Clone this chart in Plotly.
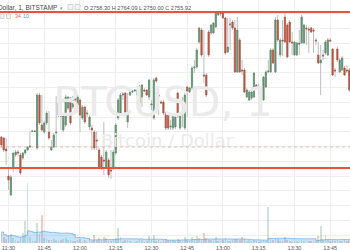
import numpy as np
import pandas as pd
import plotly.graph_objects as go

times = pd.date_range("2017-07-06 11:27", periods=147, freq="1min")

open_ = [2731.5, 2731, 2725.5, 2712, 2702.5, 2716.5, 2722.5, 2724, 2722.5, 2721,
         2723.5, 2725, 2726.5, 2734.25, 2734.5, 2726, 2752.5, 2737.5, 2734, 2738.5,
         2734, 2725, 2726.5, 2733.5, 2748.5, 2742.5, 2735, 2737.5, 2746, 2751,
         2746.5, 2751.5, 2747.5, 2750, 2741, 2746.5, 2743, 2736.5, 2736, 2734,
         2730, 2725, 2721.5, 2720, 2716.5, 2720, 2715, 2716, 2723.5, 2741,
         2743.5, 2752.5, 2753.5, 2739, 2752.5, 2754, 2754.5, 2752.5, 2748.5, 2751.5,
         2755, 2755, 2751.5, 2747.5, 2741, 2761, 2752.5, 2749, 2749, 2743.5,
         2742.5, 2736.5, 2736, 2736.5, 2753.5, 2736, 2744, 2736, 2756.5, 2754,
         2756, 2766, 2766.5, 2779, 2785, 2762.5, 2762.5, 2784, 2783.5, 2783.5,
         2786.5, 2792.5, 2793, 2793.5, 2791, 2774, 2787.5, 2789, 2786, 2764,
         2780, 2765, 2765, 2751.5, 2750, 2751, 2751.5, 2757.5, 2756, 2756,
         2750, 2756.5, 2764, 2764, 2775, 2764, 2790, 2772.5, 2780, 2791.5,
         2787.5, 2789, 2779, 2772.5, 2772.5, 2778.5, 2778.5, 2778.5, 2786, 2785.5,
         2786, 2785, 2780, 2772.5, 2768.5, 2772.5, 2773.5, 2772.5, 2780, 2775.5,
         2765, 2775.5, 2764, 2765, 2766, 2765, 2765]
high = [2732, 2731.5, 2731, 2716.5, 2712.5, 2723.5, 2725, 2725, 2723.5, 2724,
        2725.5, 2727, 2734.5, 2735, 2735, 2753.5, 2753.5, 2752.5, 2739.5, 2744.5,
        2744.5, 2730, 2733.5, 2752, 2752.5, 2750, 2743.5, 2752.5, 2752, 2751.5,
        2752, 2752, 2752.5, 2751, 2747.5, 2747, 2745, 2742.5, 2737.5, 2735,
        2734.5, 2726, 2722.5, 2739, 2725, 2721, 2725, 2725, 2738.5, 2751,
        2753.5, 2754, 2754, 2753.5, 2754.5, 2754.5, 2755, 2755.5, 2757.5, 2758,
        2756, 2755.5, 2760.5, 2750, 2761, 2761.5, 2753.5, 2750, 2750, 2744,
        2743.5, 2740, 2743.5, 2742.5, 2754, 2743.5, 2751.5, 2753.5, 2757, 2756.5,
        2767, 2770, 2776, 2786.5, 2786, 2785, 2763.5, 2785, 2788, 2789,
        2794, 2794, 2794, 2794, 2791.5, 2791, 2791, 2790, 2790, 2791.5,
        2781, 2770, 2766, 2756, 2755, 2754.5, 2764, 2758, 2758, 2757,
        2762, 2765, 2770, 2776, 2776, 2791.5, 2792.5, 2781, 2790, 2793.5,
        2788.5, 2790, 2784, 2779.5, 2779, 2785, 2792.5, 2788, 2787.5, 2786.5,
        2786.5, 2786, 2781, 2779, 2777.5, 2775, 2780, 2781, 2781, 2776,
        2766, 2776.5, 2771, 2772, 2767, 2767.5, 2766]
low = [2726.5, 2724, 2717.5, 2705, 2702, 2714, 2721.5, 2722, 2712.5, 2720,
       2722.5, 2724.5, 2726, 2734, 2734, 2725, 2737.5, 2734, 2733, 2737.5,
       2730, 2724.5, 2726, 2726.5, 2741.5, 2735, 2734, 2736.5, 2745, 2737.5,
       2745.5, 2749, 2747, 2734, 2740, 2738, 2741.5, 2735, 2725, 2725,
       2725, 2716, 2715, 2712.5, 2715.5, 2711, 2710.5, 2715, 2722.5, 2740,
       2742.5, 2750, 2743, 2736, 2752, 2753.5, 2754, 2752, 2747.5, 2746.5,
       2754, 2752, 2750, 2745, 2740, 2758.5, 2742.5, 2748, 2742.5, 2735,
       2735, 2735, 2735, 2735.5, 2741, 2735, 2736.5, 2735, 2741.5, 2753.5,
       2755, 2763.5, 2765.5, 2778, 2771.5, 2758.5, 2751.5, 2771.5, 2782.5, 2783,
       2786, 2792, 2792, 2790.5, 2772.5, 2773.5, 2775, 2785, 2763.5, 2763.5,
       2763.5, 2762.5, 2753.5, 2751, 2749.5, 2750, 2751, 2755.5, 2752.5, 2755.5,
       2749.5, 2756, 2763.5, 2763.5, 2768, 2763.5, 2779, 2771.5, 2772, 2778.5,
       2771, 2778.5, 2772.5, 2772, 2772, 2772.5, 2778, 2778, 2777.5, 2773.5,
       2783.5, 2773.5, 2777.5, 2768, 2752.5, 2770, 2772.5, 2772, 2779, 2762,
       2761.5, 2769, 2763.5, 2764.5, 2762, 2763.5, 2754]
close = [2727.5, 2725, 2724.5, 2710, 2711.5, 2723.5, 2724, 2723.5, 2713.5, 2723.5,
         2725, 2726.5, 2727, 2734.5, 2734.25, 2752.5, 2738.5, 2735, 2738.5, 2743.5,
         2731, 2726.5, 2732.5, 2734, 2742.5, 2742, 2742.5, 2751.5, 2751.5, 2738.5,
         2751.5, 2750, 2751.5, 2742.5, 2746.5, 2739, 2743.5, 2741.5, 2735, 2726,
         2729.5, 2716.5, 2716.5, 2719.5, 2724, 2712.5, 2714.5, 2724, 2737.5, 2750,
         2752.5, 2753, 2744, 2743.5, 2754, 2754.5, 2755, 2755, 2757, 2757.5,
         2754.5, 2752.5, 2760, 2748, 2760, 2759.5, 2752, 2748.5, 2743.5, 2736,
         2736, 2737, 2742.5, 2741.5, 2742, 2742.5, 2743.5, 2752.5, 2754.5, 2756,
         2766, 2766.5, 2775, 2786, 2772.5, 2762, 2752.5, 2772.5, 2787.5, 2788.5,
         2793.5, 2793.5, 2793.5, 2791, 2773.5, 2776.5, 2788, 2786, 2764, 2785,
         2764, 2764.5, 2754, 2755, 2754, 2754, 2763.5, 2756, 2755.5, 2756.5,
         2761.5, 2764, 2764.5, 2775, 2768.5, 2790, 2780, 2780, 2779.5, 2779,
         2771.5, 2779, 2778.5, 2779, 2778.5, 2778, 2791.5, 2787.5, 2785.5, 2785,
         2784, 2784.5, 2779.5, 2768.5, 2770, 2772, 2779, 2780, 2779.5, 2762.5,
         2764.5, 2770, 2770, 2771, 2762.5, 2764.5, 2755]
volume = [5.5, 3, 2, 4, 4.5, 2.5, 1.5, 1, 3, 5,
          11, 30, 3, 1, 1, 10, 4.5, 14, 2.5, 2,
          1.5, 1.5, 2, 1.5, 1, 1.5, 2, 2.5, 1.5, 1.5,
          1, 1, 1.5, 2, 1, 1.5, 0.5, 2, 1, 4,
          1.5, 2.5, 1.5, 3, 2.5, 1.5, 1, 2, 2.5, 7.5,
          3, 1, 1.5, 1.5, 1, 0.5, 0.5, 1, 2, 1.5,
          0.5, 1, 3.5, 1.5, 4, 1, 1.5, 0.5, 1.5, 2,
          1.5, 1, 1.5, 1, 2, 1.5, 1, 3, 1.5, 1,
          3, 1.5, 3.5, 2.5, 2, 5, 2.5, 1.5, 1.5, 1,
          3, 1, 1, 1.5, 2.5, 1, 1, 1.5, 2, 2,
          1.5, 3, 2, 1, 1.5, 1, 1.5, 1, 0.5, 1,
          1.5, 1, 18, 2, 1.5, 2.5, 2, 1, 1, 3,
          1.5, 1, 0.5, 1, 1, 0.5, 1.5, 1, 0.5, 1,
          1, 0.5, 1, 3.5, 8.5, 1.5, 4, 2, 1, 1.5,
          1, 1.5, 1, 1, 1.5, 1, 2]

resistance_level = 2794.0
support_level = 2716.0
marker_level = 2726.5

header_symbol = "Bitcoin / Dollar, 1, BITSTAMP"
header_ohlc = "O 2758.30 H 2764.09 L 2750.00 C 2755.92"
vol_value = "34"
vol_ma_value = "10"
watermark_main = "BTCUSD, 1"
watermark_sub = "Bitcoin / Dollar"

# ---- styling ----
W, H = 350, 250
MB = 7
PH = H - MB
UP = "#5f9270"
DOWN = "#b9533e"
WICK = "#bdbdbd"
GRID = "#efefef"

o = np.array(open_)
c = np.array(close)
up = c > o
vol_ma = pd.Series(volume).rolling(20, min_periods=1).mean()
vol_colors = np.where(up, "rgba(107,165,131,0.32)", "rgba(215,84,66,0.30)")

fig = go.Figure()

# watermark (beneath everything)
fig.add_trace(go.Scatter(x=[pd.Timestamp("2017-07-06 12:34:50")], y=[2747],
                         mode="text", text=[watermark_main], textposition="middle center",
                         textfont=dict(family="DejaVu Sans", size=41, color="#eaeaea"),
                         hoverinfo="skip"))
fig.add_trace(go.Scatter(x=[pd.Timestamp("2017-07-06 12:36:30")], y=[2729],
                         mode="text", text=[watermark_sub], textposition="middle center",
                         textfont=dict(family="DejaVu Sans", size=18, color="#eaeaea"),
                         hoverinfo="skip"))

# wicks
fig.add_trace(go.Candlestick(x=times, open=open_, high=high, low=low, close=close,
                             increasing=dict(line=dict(color=WICK, width=1), fillcolor=WICK),
                             decreasing=dict(line=dict(color=WICK, width=1), fillcolor=WICK),
                             whiskerwidth=0, hoverinfo="skip"))
# bodies
fig.add_trace(go.Candlestick(x=times, open=open_, close=close,
                             high=np.maximum(o, c), low=np.minimum(o, c),
                             increasing=dict(line=dict(color=UP, width=0.6), fillcolor=UP),
                             decreasing=dict(line=dict(color=DOWN, width=0.6), fillcolor=DOWN),
                             whiskerwidth=0))

# volume + MA
fig.add_trace(go.Scatter(x=times, y=vol_ma, yaxis="y2", mode="lines", fill="tozeroy",
                         line=dict(color="rgba(80,160,225,0.55)", width=1, shape="hv"),
                         fillcolor="rgba(120,185,235,0.40)", hoverinfo="skip"))
fig.add_trace(go.Bar(x=times, y=volume, yaxis="y2", marker=dict(color=list(vol_colors), line=dict(width=0)),
                     width=42000))

def P(xp, yp):
    return xp / W, 1 - yp / PH

shapes = []
for lvl, col, wd, dash in [(resistance_level, "#e8533f", 2, "solid"),
                           (support_level, "#e8533f", 2, "solid"),
                           (marker_level, "rgba(226,110,95,0.45)", 1, "dot")]:
    shapes.append(dict(type="line", xref="paper", x0=0, x1=1, yref="y", y0=lvl, y1=lvl,
                       line=dict(color=col, width=wd, dash=dash)))
# small header icons
for (x0, y0, x1, y1) in [(68, 4.5, 73, 9.5), (75, 4.5, 80, 9.5), (0, 14, 4, 18.5), (6.5, 14, 10.5, 18.5)]:
    a0, b0 = P(x0, y0)
    a1, b1 = P(x1, y1)
    shapes.append(dict(type="rect", xref="paper", yref="paper", x0=a0, x1=a1, y0=b0, y1=b1,
                       line=dict(color="#cccccc", width=0.8), fillcolor="#f4f4f4"))

anns = []
def ann(xp, yp, text, size, color, xanchor="left"):
    ax, ay = P(xp, yp)
    anns.append(dict(xref="paper", yref="paper", x=ax, y=ay, text=text, showarrow=False,
                     xanchor=xanchor, yanchor="middle", borderpad=0,
                     font=dict(family="Liberation Sans", size=size, color=color)))

ann(58, 7.5, header_symbol, 6.5, "#4a4a4a", "right")
ann(58.5, 7.5, "▾", 5, "#999999")
ann(82.5, 7.5, header_ohlc, 5.6, "#555555")
ann(14, 16.5, vol_value, 5.2, "#d9634f")
ann(22.5, 16.5, vol_ma_value, 5.2, "#4a9fe0")

fig.update_layout(
    width=W, height=H,
    margin=dict(l=0, r=0, t=0, b=MB),
    paper_bgcolor="white", plot_bgcolor="white",
    showlegend=False, bargap=0,
    boxgap=0.3,
    shapes=shapes, annotations=anns,
    xaxis=dict(type="date", range=["2017-07-06 11:26:26", "2017-07-06 13:53:18"],
               rangeslider=dict(visible=False),
               tick0="2017-07-06 11:30", dtick=900000, tickformat="%H:%M",
               showgrid=True, gridcolor=GRID, gridwidth=1, zeroline=False,
               ticks="", showline=False,
               tickfont=dict(family="Liberation Sans", size=5.5, color="#555555")),
    yaxis=dict(range=[2800 - PH / 2, 2800], showticklabels=False, ticks="",
               tick0=2778.35, dtick=7.375, showgrid=True, gridcolor=GRID, zeroline=False),
    yaxis2=dict(overlaying="y", range=[0, PH / 2], visible=False, showgrid=False),
)

fig.write_html("out.html", config=dict(displayModeBar=False))
